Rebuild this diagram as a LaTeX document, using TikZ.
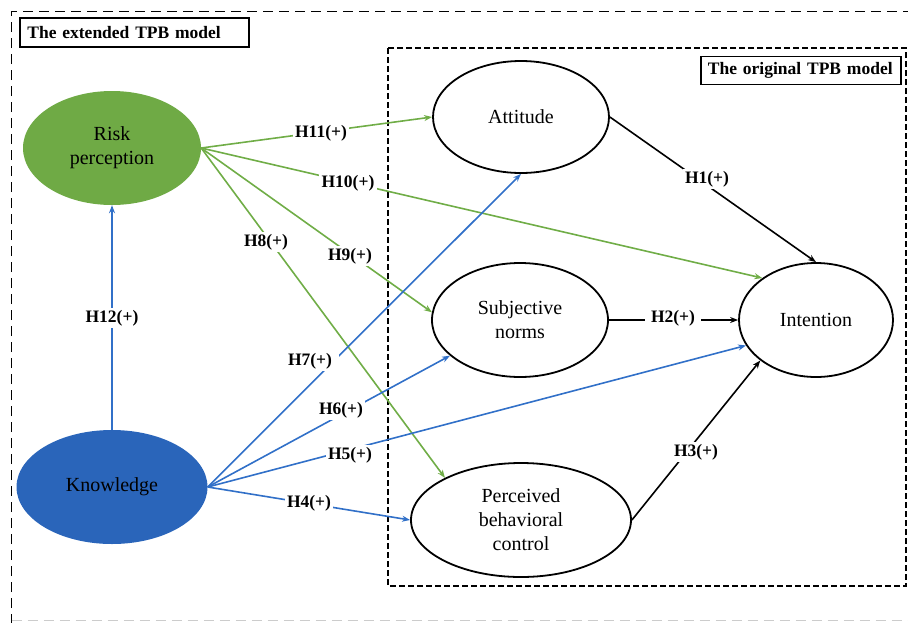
\documentclass[tikz,border=0pt]{standalone}
\usepackage{fontspec}
\setmainfont{Liberation Serif}
\usetikzlibrary{shapes.geometric,arrows.meta}
\definecolor{rpgreen}{HTML}{6FAA45}
\definecolor{lngreen}{HTML}{70AD47}
\definecolor{knblue}{HTML}{2A65BA}
\definecolor{lnblue}{HTML}{3170C8}
\tikzset{
  ell/.style={ellipse, draw=black, line width=1.8pt, inner sep=0pt, align=center,
    font=\fontsize{20}{24}\selectfont},
  fell/.style={ellipse, inner sep=0pt, align=center, font=\fontsize{20}{24}\selectfont},
  lab/.style={fill=white, inner sep=2.5pt, font=\fontsize{17.5}{20}\selectfont\bfseries},
  title/.style={draw=black, line width=1.8pt, inner sep=0pt, anchor=north west,
    font=\fontsize{17.5}{20}\selectfont\bfseries},
  tip/.style={-{Stealth[length=8pt,width=6pt]}},
  garr/.style={tip, draw=lngreen, line width=1.6pt},
  barr/.style={tip, draw=lnblue, line width=1.6pt},
  karr/.style={tip, draw=black, line width=1.6pt},
}
\begin{document}
\begin{tikzpicture}[x=1pt,y=-1pt]
\useasboundingbox (0,0) rectangle (908,622);
% outer dashed frame
\draw[line width=1.8pt, dash pattern=on 10pt off 6pt] (11.5,640) -- (11.5,11.5) -- (930,11.5);
\draw[line width=1pt, black!20, dash pattern=on 10pt off 6pt] (11.5,620.5) -- (930,620.5);
% inner dashed frame
\draw[line width=2pt, dash pattern=on 6pt off 3pt] (388,48) rectangle (906,586);
% titles
\node[title, minimum width=229pt, minimum height=29pt, text width=222pt] (t1) at (19,17) {\hspace*{4pt}The extended TPB model};
\node[title, minimum width=200pt, minimum height=28pt, text width=194pt] (t2) at (700,55.5) {\hspace*{4pt}The original TPB model};
% nodes
\node[fell, fill=rpgreen, minimum width=178pt, minimum height=114pt] (rp) at (112,148) {Risk\\perception};
\node[fell, fill=knblue, minimum width=191pt, minimum height=114pt] (kn) at (112,487) {Knowledge};
\node[ell, minimum width=176pt, minimum height=112pt] (att) at (521,117) {Attitude};
\node[ell, minimum width=176pt, minimum height=114pt] (sn) at (520,320) {Subjective\\norms};
\node[ell, minimum width=220pt, minimum height=114pt] (pbc) at (521,520) {Perceived\\behavioral\\control};
\node[ell, minimum width=154pt, minimum height=114pt] (int) at (816,320) {Intention};
% green arrows
\draw[garr] (rp.east) -- (att.west);
\draw[garr] (rp.east) -- (int.142);
\draw[garr] (rp.east) -- (sn.175);
\draw[garr] (rp.east) -- (pbc.151);
% blue arrows
\draw[barr] (kn.north) -- (rp.south);
\draw[barr] (kn.east) -- (att.south);
\draw[barr] (kn.east) -- (sn.207);
\draw[barr] (kn.east) -- (int.200);
\draw[barr] (kn.east) -- (pbc.west);
% black arrows
\draw[karr] (att.east) -- (int.north);
\draw[karr] (sn.east) -- (int.west);
\draw[karr] (pbc.east) -- (int.216);
% labels
\node[lab] (l11) at (321,133) {H11(+)};
\node[lab] (l10) at (348,183) {H10(+)};
\node[lab] (l9) at (350,256) {H9(+)};
\node[lab] (l8) at (266,242) {H8(+)};
\node[lab] (l12) at (112,318) {H12(+)};
\node[lab, inner xsep=7pt] (l7) at (310,361) {H7(+)};
\node[lab] (l6) at (341,410) {H6(+)};
\node[lab] (l5) at (350,455) {H5(+)};
\node[lab] (l4) at (309,503) {H4(+)};
\node[lab] (l1) at (707,179) {H1(+)};
\node[lab, inner xsep=6pt] (l2) at (673,318) {H2(+)};
\node[lab] (l3) at (696,452) {H3(+)};
\end{tikzpicture}
\end{document}
